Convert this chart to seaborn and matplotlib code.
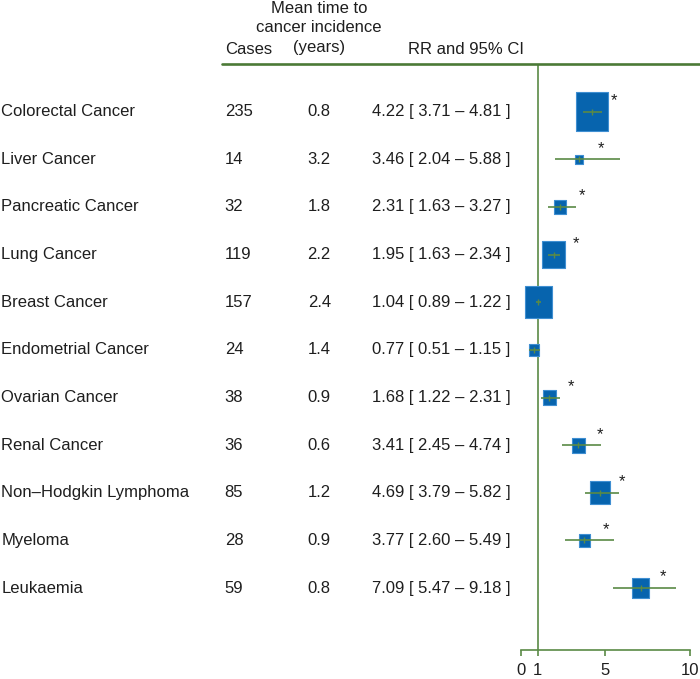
import numpy as np
import pandas as pd
import matplotlib.pyplot as plt
import seaborn as sns
from matplotlib import transforms

# ─────────────────────────────────────────────
# DATA
# ─────────────────────────────────────────────
cancers = [
    "Colorectal Cancer", "Liver Cancer", "Pancreatic Cancer", "Lung Cancer",
    "Breast Cancer", "Endometrial Cancer", "Ovarian Cancer", "Renal Cancer",
    "Non\u2013Hodgkin Lymphoma", "Myeloma", "Leukaemia",
]
cases = [235, 14, 32, 119, 157, 24, 38, 36, 85, 28, 59]
mean_time = [0.8, 3.2, 1.8, 2.2, 2.4, 1.4, 0.9, 0.6, 1.2, 0.9, 0.8]
rr = [4.22, 3.46, 2.31, 1.95, 1.04, 0.77, 1.68, 3.41, 4.69, 3.77, 7.09]
ci_low = [3.71, 2.04, 1.63, 1.63, 0.89, 0.51, 1.22, 2.45, 3.79, 2.60, 5.47]
ci_high = [4.81, 5.88, 3.27, 2.34, 1.22, 1.15, 2.31, 4.74, 5.82, 5.49, 9.18]
x_ticks = [0, 1, 5, 10]

df = pd.DataFrame({
    "cancer": cancers, "cases": cases, "mean_time": mean_time,
    "rr": rr, "lo": ci_low, "hi": ci_high,
})
df["row"] = np.arange(1, len(df) + 1)
df["signif"] = df["lo"] > 1

# ─────────────────────────────────────────────
# STYLE
# ─────────────────────────────────────────────
sns.set_theme(style="white")
plt.rcParams["font.family"] = ["Liberation Sans", "DejaVu Sans"]

BLUE = "#0764ae"
EDGE = "#3f8fd2"
GREEN = "#5a8a46"
DKGREEN = "#4b7a36"
TXT = "#1e1e1e"
FS = 12

fig = plt.figure(figsize=(7, 6.79), dpi=100)
ax = fig.add_axes([0.7439, 0.0427, 0.2414, 0.8630])
blend = transforms.blended_transform_factory(fig.transFigure, ax.transData)

# ─────────────────────────────────────────────
# FOREST PLOT
# ─────────────────────────────────────────────
# slightly tall boxes, area proportional to number of cases
box = [(-0.42, -0.5), (0.42, -0.5), (0.42, 0.5), (-0.42, 0.5), (-0.42, -0.5)]
sns.scatterplot(data=df, x="rr", y="row", size="cases", sizes=(46, 776),
                marker=box, color=BLUE, edgecolor=EDGE, linewidth=0.8,
                legend=False, ax=ax, zorder=2)

ax.axvline(1, color=GREEN, lw=1.2, zorder=1)
ax.hlines(df["row"], df["lo"], df["hi"], color=GREEN, lw=1.2, zorder=3)
ax.scatter(df["rr"], df["row"], marker="|", s=16, color=GREEN, lw=1, zorder=4)

for _, r in df[df["signif"]].iterrows():
    ax.text(r["rr"] + 1.3, r["row"] - 0.23, "*", ha="center", va="center",
            fontsize=FS, color=TXT)

# ─────────────────────────────────────────────
# TABLE COLUMNS
# ─────────────────────────────────────────────
for _, r in df.iterrows():
    y = r["row"]
    ax.text(0.002, y, r["cancer"], transform=blend, ha="left", va="center",
            fontsize=FS, color=TXT)
    ax.text(0.321, y, f"{r['cases']}", transform=blend, ha="left",
            va="center", fontsize=FS, color=TXT)
    ax.text(0.456, y, f"{r['mean_time']:.1f}", transform=blend, ha="center",
            va="center", fontsize=FS, color=TXT)
    ax.text(0.532, y, f"{r['rr']:.2f} [ {r['lo']:.2f} \u2013 {r['hi']:.2f} ]",
            transform=blend, ha="left", va="center", fontsize=FS, color=TXT)

# headers
ax.text(0.321, -0.30, "Cases", transform=blend, ha="left", va="center",
        fontsize=FS, color=TXT)
ax.text(0.456, -0.76, "Mean time to\ncancer incidence\n(years)",
        transform=blend, ha="center", va="center", fontsize=FS, color=TXT,
        linespacing=1.36)
ax.text(0.6657, -0.30, "RR and 95% CI", transform=blend, ha="center",
        va="center", fontsize=FS, color=TXT)
ax.plot([222 / 700, 1.0], [0, 0], transform=blend, color=DKGREEN, lw=1.9,
        clip_on=False)

# ─────────────────────────────────────────────
# AXES
# ─────────────────────────────────────────────
ax.set_xlim(0, 10)
ax.set_ylim(12.3, 0)
ax.set_xticks(x_ticks)
ax.set_xticklabels([str(t) for t in x_ticks])
ax.set_yticks([])
ax.set_xlabel("")
ax.set_ylabel("")
sns.despine(ax=ax, left=True)
ax.spines["bottom"].set_color(GREEN)
ax.spines["bottom"].set_linewidth(1.2)
ax.tick_params(axis="x", bottom=True, color=GREEN, length=4, width=1.2,
               pad=5, labelsize=FS, labelcolor=TXT)
ax.patch.set_visible(False)

fig.savefig("out.png", dpi=100)
